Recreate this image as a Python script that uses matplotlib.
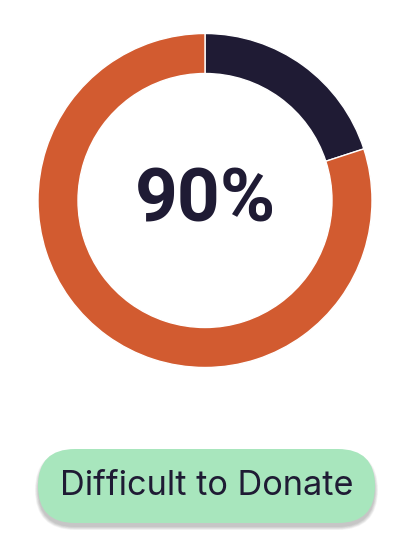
import matplotlib.pyplot as plt
from matplotlib.patches import FancyBboxPatch

# data
labels = ["Easy", "Difficult"]
values = [20, 80]
colors = ["#1f1b34", "#d25b30"]
center_text = "90%"
badge_text = "Difficult to Donate"

W, H = 414, 550
fig = plt.figure(figsize=(W / 100, H / 100), dpi=100)
ax = fig.add_axes([0, 0, 1, 1])

ax.pie(values, colors=colors, startangle=90, counterclock=False,
       center=(205, H - 200.5), radius=167, frame=True,
       wedgeprops=dict(width=40, edgecolor="white", linewidth=1))

ax.text(206, H - 201.5, center_text, ha="center", va="center",
        fontsize=54, fontweight="bold", family="Roboto", color="#1f1b34")

# badge with soft shadow
bx, by, bw, bh = 38, H - 523, 337, 74
for i in range(6):
    sh = FancyBboxPatch((bx - i * 0.6, by - 4 - i * 0.6), bw + i * 1.2, bh + i * 1.2,
                        boxstyle="round,pad=0,rounding_size=%g" % (37 + i * 0.6),
                        fc="#000000", ec="none", alpha=0.04)
    ax.add_patch(sh)
badge = FancyBboxPatch((bx, by), bw, bh, boxstyle="round,pad=0,rounding_size=37",
                       fc="#a8e6bd", ec="none")
ax.add_patch(badge)
ax.text(bx + bw / 2 + 0.5, by + bh / 2 - 0.5, badge_text, ha="center", va="center",
        fontsize=24.7, family="Inter", color="#1f1b34")

ax.set_xlim(0, W)
ax.set_ylim(0, H)
ax.axis("off")
fig.savefig("out.png", dpi=100, facecolor="white")
